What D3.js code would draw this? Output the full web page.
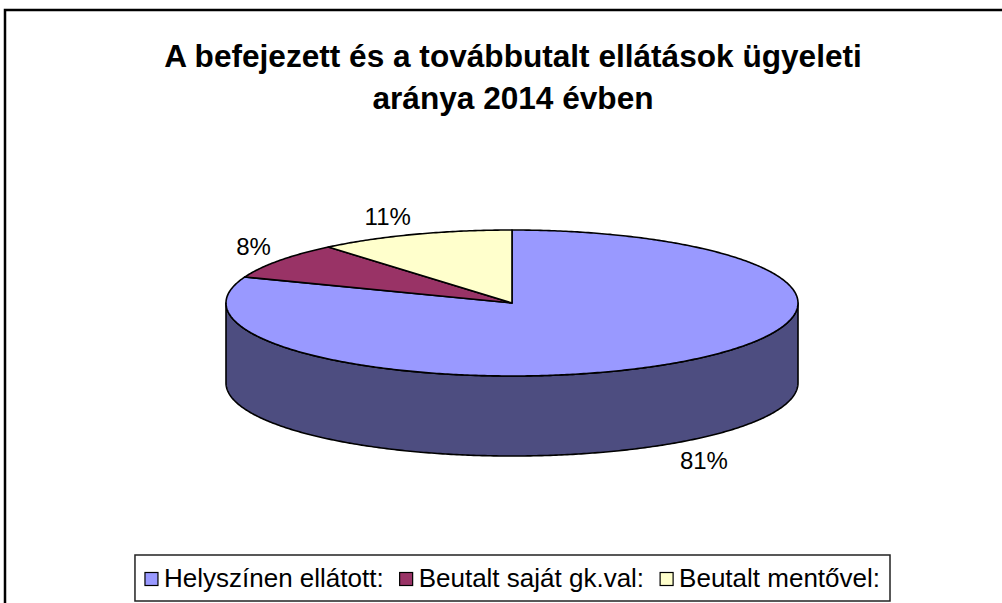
<!DOCTYPE html>
<html><head><meta charset="utf-8">
<script src="https://cdn.jsdelivr.net/npm/d3@7"></script>
<style>html,body{margin:0;padding:0;background:#fff;}svg{display:block;}</style>
</head><body>
<svg id="c" width="1002" height="603"></svg>
<script>
const categories = ["Helyszínen ellátott:", "Beutalt saját gk.val:", "Beutalt mentővel:"];
const values = [80.8, 8.1, 11.1];
const labels = ["81%", "8%", "11%"];
const topColors = ["#9999FF", "#993366", "#FFFFCC"];
const sideColors = ["#4D4D80", "#4D1A33", "#808066"];
const titleLines = ["A befejezett és a továbbutalt ellátások ügyeleti", "aránya 2014 évben"];

const svg = d3.select("#c");
const FONT = "'Liberation Sans', Arial, sans-serif";

// outer frame (extends past right/bottom edge)
svg.append("rect").attr("x", 5).attr("y", 10).attr("width", 1100).attr("height", 700)
  .attr("fill", "#fff").attr("stroke", "#000").attr("stroke-width", 2.5);

// title
svg.append("g").selectAll("text").data(titleLines).join("text")
  .attr("x", 513).attr("y", (d, i) => 67 + i * 42)
  .attr("text-anchor", "middle").attr("font-family", FONT).attr("font-weight", "bold")
  .attr("font-size", 31.6).attr("fill", "#000").text(d => d);

// pie geometry
const cx = 512, cy = 303, rx = 286, ry = 73, depth = 80;
const pie = d3.pie().sort(null).value(d => d)(values);
const pt = (a, dy = 0) => [cx + rx * Math.sin(a), cy - ry * Math.cos(a) + dy];
const arcPts = (a0, a1, dy = 0) => {
  const n = Math.max(2, Math.ceil(Math.abs(a1 - a0) / 0.01));
  return d3.range(n + 1).map(i => pt(a0 + (a1 - a0) * i / n, dy));
};
const line = d3.line();

// side wall: visible portion between PI/2 and 3PI/2
const g = svg.append("g").attr("stroke", "#000").attr("stroke-width", 1.6).attr("stroke-linejoin", "round");
pie.forEach((s, i) => {
  const a0 = Math.max(s.startAngle, Math.PI / 2), a1 = Math.min(s.endAngle, 3 * Math.PI / 2);
  if (a1 <= a0) return;
  const pts = arcPts(a0, a1).concat(arcPts(a1, a0, depth));
  g.append("path").attr("d", line(pts) + "Z").attr("fill", sideColors[i]);
});
// top faces
pie.forEach((s, i) => {
  const pts = [[cx, cy]].concat(arcPts(s.startAngle, s.endAngle));
  g.append("path").attr("d", line(pts) + "Z").attr("fill", topColors[i]);
});

// labels
const gap = 10;
pie.forEach((s, i) => {
  const m = (s.startAngle + s.endAngle) / 2;
  const sx = Math.sin(m), cyv = Math.cos(m);
  const x = cx + (rx + gap) * sx;
  const y = cy - (ry + gap) * cyv + (cyv < 0 ? depth : 0);
  svg.append("text").attr("x", x).attr("y", y)
    .attr("text-anchor", sx >= 0 ? "start" : "end")
    .attr("dy", cyv < 0 ? "0.75em" : "0")
    .attr("font-family", FONT).attr("font-size", 24).attr("fill", "#000").text(labels[i]);
});

// legend
const lg = svg.append("g");
const fs = 26, mk = 13, mgap = 6, igap = 16, pad = 10;
let x = 0;
const items = categories.map((c, i) => {
  const t = lg.append("text").attr("font-family", FONT).attr("font-size", fs).text(c);
  const w = t.node().getComputedTextLength();
  const it = { t, x, w, i };
  x += mk + mgap + w + (i < categories.length - 1 ? igap : 0);
  return it;
});
const total = x + pad * 2;
const lx = 890 - total, ly = 555, lh = 46;
lg.insert("rect", ":first-child").attr("x", lx).attr("y", ly).attr("width", total).attr("height", lh)
  .attr("fill", "#fff").attr("stroke", "#222").attr("stroke-width", 1.5);
items.forEach(it => {
  const bx = lx + pad + it.x;
  lg.append("rect").attr("x", bx).attr("y", ly + lh / 2 - mk / 2 + 1).attr("width", mk).attr("height", mk)
    .attr("fill", topColors[it.i]).attr("stroke", "#000").attr("stroke-width", 1.2);
  it.t.attr("x", bx + mk + mgap).attr("y", ly + lh / 2 + fs * 0.36);
});
</script>
</body></html>
